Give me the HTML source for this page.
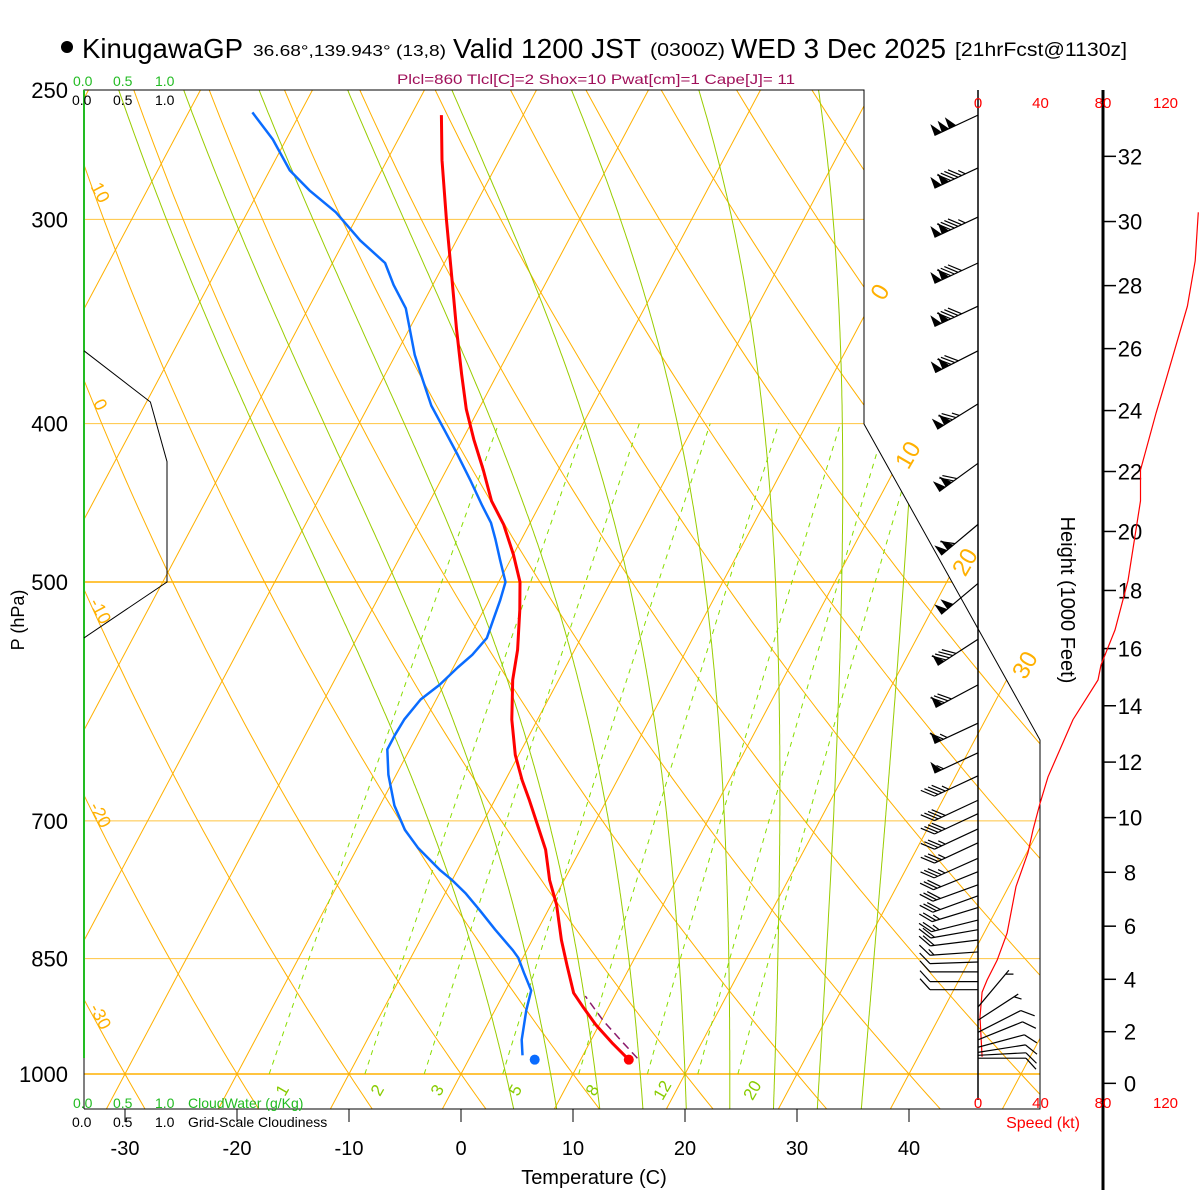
<!DOCTYPE html>
<html><head><meta charset="utf-8"><title>Skew-T KinugawaGP</title>
<style>
html,body{margin:0;padding:0;background:#fff;}
svg{display:block;font-family:"Liberation Sans",sans-serif;}
</style></head>
<body>
<svg id="chart" width="1200" height="1200" viewBox="0 0 1200 1200" xmlns="http://www.w3.org/2000/svg">
<defs><clipPath id="plotclip"><polygon points="84,90 864,90 864,424 1040,740 1040,1109 84,1109"/></clipPath></defs>
<rect width="1200" height="1200" fill="#fff"/>
<g id="header">
<circle cx="67" cy="47" r="6" fill="#000"/>
<text x="82" y="58" font-size="28" textLength="161" lengthAdjust="spacingAndGlyphs">KinugawaGP</text>
<text x="253" y="56" font-size="16" textLength="193" lengthAdjust="spacingAndGlyphs">36.68°,139.943° (13,8)</text>
<text x="453" y="58" font-size="28" textLength="188" lengthAdjust="spacingAndGlyphs">Valid 1200 JST</text>
<text x="650" y="56" font-size="18" textLength="75" lengthAdjust="spacingAndGlyphs">(0300Z)</text>
<text x="731" y="58" font-size="28" textLength="215" lengthAdjust="spacingAndGlyphs">WED 3 Dec 2025</text>
<text x="955" y="56" font-size="19" textLength="172" lengthAdjust="spacingAndGlyphs">[21hrFcst@1130z]</text>
<text x="397" y="84" font-size="14" fill="#a0105a" textLength="398" lengthAdjust="spacingAndGlyphs">Plcl=860 Tlcl[C]=2 Shox=10 Pwat[cm]=1 Cape[J]= 11</text>
</g>
<g id="bg" clip-path="url(#plotclip)"></g>
<g id="fg"></g>
</svg>
<script>
// ---- data ----
const tempP = [980,957,933,911,892,858,828,788,761,729,704,680,661,638,607,574,550,520,500,481,461,446,427,409,392,373,350,326,300,276,259];
const tempC = [14.3,12.0,9.7,7.8,6.2,4.3,2.6,0.5,-1.3,-3.1,-5.0,-6.9,-8.5,-10.3,-12.3,-14.1,-15.1,-16.8,-18.1,-20.0,-22.3,-24.5,-26.7,-29.0,-31.1,-33.2,-35.8,-38.6,-41.9,-45.1,-47.3];
const dewP = [974,953,914,889,867,849,840,816,794,775,761,750,727,709,685,656,633,620,607,590,578,564,554,541,527,513,500,485,471,460,449,433,418,404,390,376,363,340,329,319,309,297,288,280,268,258];
const dewC = [4.6,3.8,2.8,2.3,0.8,-0.4,-1.25,-3.8,-6.1,-8.2,-10.0,-11.6,-14.6,-16.6,-18.7,-20.7,-22.0,-22.0,-21.9,-21.4,-20.4,-19.6,-18.9,-18.4,-18.7,-19.0,-19.4,-20.9,-22.3,-23.5,-25.1,-27.4,-29.7,-32.0,-34.4,-36.4,-38.3,-41.3,-43.5,-45.3,-48.6,-52.1,-55.5,-58.2,-61.2,-64.3];
const sfcP = 980, sfcT = 14.3, sfcTd = 5.9;
const parcelP = [978,955,928,896];
const parcelT = [15.0,12.8,10.2,7.4];
const windP = [259,279,299,319,339,361,389,423,461,501,542,578,610,636,657,680,693,708,722,738,752,766,778,791,805,816,828,842,854,866,878,888,910,927,943,953,963,970,974,978];
const windDir = [245,245,245,245,245,243,238,234,230,230,237,242,245,245,245,245,245,245,245,246,248,250,250,253,256,260,263,266,268,270,270,270,40,57,63,68,75,81,87,90];
const windKt = [150,145,145,140,140,130,125,120,110,100,90,80,65,55,45,40,40,35,35,35,30,30,30,25,25,20,20,15,10,10,10,10,5,5,8,10,10,10,10,10];
const speedP = [976,923,891,876,852,820,768,732,709,683,658,607,574,562,535,499,446,427,394,376,339,318,297];
const speedKt = [2.6,1.3,2.6,5.8,12.2,18.6,24.3,32,35.2,39.7,44.8,60.8,76.8,78.7,87.7,96,104,104,114,120.3,134,139,141];
const cloudP = [361,388,422,500,541];
const cloudFrac = [0,0.8,1,1,0];
const pressLabels = [250,300,400,500,700,850,1000];
const tempTicks = [-30,-20,-10,0,10,20,30,40];
const heightTicks = [0,2,4,6,8,10,12,14,16,18,20,22,24,26,28,30,32];
const speedTicks = [0,40,80,120];
const mixRatios = [1,2,3,5,8,12,16,20];
const mixLabels = ["1","2","3","5","8","12","20"];
const thetaLabels = [10,0,-10,-20,-30];
const isoLabels = [0,10,20,30];
const moistStarts = [4,8,12,16,20,24,28,32,36];

// ---- axis functions ----
const NS = "http://www.w3.org/2000/svg";
function Y(p){ return 1074 - 709.8*Math.log(1000/p); }
function X(T,p){ return 461 + 11.2*T + 0.532*(1074 - Y(p)); }
function SX(kt){ return 978 + 1.5625*kt; }
function CX(f){ return 84 + 83*f; }
function heightToP(kft){ const zm = kft*1000*0.3048; return 1013.25*Math.pow(1-2.25577e-5*zm,5.25588); }
function mk(tag, attrs, parent){ const e=document.createElementNS(NS,tag); for(const k in attrs) e.setAttribute(k,attrs[k]); parent.appendChild(e); return e; }
function poly(pts){ return pts.map(p=>p[0].toFixed(1)+","+p[1].toFixed(1)).join(" "); }
const bg = document.getElementById('bg');
const fg = document.getElementById('fg');
const ORANGE = "#ffb000", GREEN="#99cc00";

// isobars
[300,400,700,850].forEach(p=>{
  const l = mk('line',{x1:84,x2:1100,y1:Y(p),y2:Y(p),stroke:ORANGE,'stroke-width':1,'stroke-opacity':0.75},bg);
  
  
});
[500,1000].forEach(p=>{
  const l = mk('line',{x1:84,x2:1100,y1:Y(p),y2:Y(p),stroke:ORANGE,'stroke-width':1.5},bg);
  
  
});
// isotherms
for(let T=-130; T<=50; T+=10){
  const l = mk('line',{x1:X(T,1060),y1:Y(1060),x2:X(T,240),y2:Y(240),stroke:ORANGE,'stroke-width':1},bg);
  
  
}
// dry adiabats
for(let th=-40; th<=140; th+=10){
  const pts=[];
  for(let p=1060;p>=240;p-=10){ const T=(th+273.15)*Math.pow(p/1000,0.286)-273.15; pts.push([X(T,p),Y(p)]); }
  const l = mk('polyline',{points:poly(pts),fill:'none',stroke:ORANGE,'stroke-width':1},bg);
  
  
}
// moist adiabats
function es(T){ return 6.112*Math.exp(17.67*T/(T+243.5)); }
function dTdp(T,p){ const Tk=T+273.15; const rs=0.622*es(T)/(p-es(T)); return (287*Tk+2.5e6*rs)/(p*(1005+2.5e6*2.5e6*rs*0.622/(287*Tk*Tk))); }
moistStarts.forEach(T0=>{
  const up=[]; let T=T0;
  for(let p=1000;p>=240;p-=2){ up.push([X(T,p),Y(p)]); T -= dTdp(T,p)*2; }
  const down=[]; T=T0;
  for(let p=1000;p<=1060;p+=2){ down.unshift([X(T,p),Y(p)]); T += dTdp(T,p)*2; }
  const l = mk('polyline',{points:poly(down.concat(up)),fill:'none',stroke:GREEN,'stroke-width':1},bg);
  
  
});
// mixing ratio lines
mixRatios.forEach(w=>{
  const pts=[];
  for(let p=1000;p>=400;p-=10){ const e=w*p/(622+w); const a=Math.log(e/6.112); const Td=243.5*a/(17.67-a); pts.push([X(Td,p),Y(p)]); }
  const l = mk('polyline',{points:poly(pts),fill:'none',stroke:"#88dd00",'stroke-width':1,'stroke-dasharray':'5,5'},bg);
  
  
});

// frame
const frame = mk('polyline',{points:"84,1109 84,90 864,90 864,424 1040,740 1040,1109 84,1109",fill:'none',stroke:'#000','stroke-width':1},fg);


const gax = mk('line',{x1:84,y1:90,x2:84,y2:1058,stroke:'#22bb22','stroke-width':2},fg);



// cloud fraction line
{
  const pts = cloudP.map((p,i)=>[CX(cloudFrac[i]),Y(p)]);
  const l = mk('polyline',{points:poly(pts),fill:'none',stroke:'#000','stroke-width':1},fg);
  
  
}
// parcel
{
  const pts = parcelP.map((p,i)=>[X(parcelT[i],p),Y(p)]);
  const l = mk('polyline',{points:poly(pts),fill:'none',stroke:'#8b1a6b','stroke-width':1.5,'stroke-dasharray':'8,5'},fg);
  
  
}
// dewpoint
{
  const pts = dewP.map((p,i)=>[X(dewC[i],p),Y(p)]);
  const l = mk('polyline',{points:poly(pts),fill:'none',stroke:'#0a6cff','stroke-width':2.5,'stroke-linejoin':'round'},fg);
  
  
  const d = mk('circle',{cx:X(sfcTd,sfcP),cy:Y(sfcP),r:5,fill:'#0a6cff'},fg);
  
  
}
// temperature
{
  const pts = tempP.map((p,i)=>[X(tempC[i],p),Y(p)]);
  const l = mk('polyline',{points:poly(pts),fill:'none',stroke:'#ff0000','stroke-width':3,'stroke-linejoin':'round'},fg);
  
  
  const d = mk('circle',{cx:X(sfcT,sfcP),cy:Y(sfcP),r:5,fill:'#ff0000'},fg);
  
  
}

// right panel axes
{
  const a = mk('line',{x1:978,y1:90,x2:978,y2:1100,stroke:'#000','stroke-width':1.5},fg);
  
  
  const h = mk('line',{x1:1103,y1:90,x2:1103,y2:1190,stroke:'#000','stroke-width':3},fg);
  
  
}
heightTicks.forEach(k=>{
  const y=Y(heightToP(k));
  const t = mk('line',{x1:1103,y1:y,x2:1116,y2:y,stroke:'#000','stroke-width':1.5},fg);
  
  
  const tx = mk('text',{x:1130,y:y+8,'font-size':22,'text-anchor':'middle'},fg);
  tx.textContent = String(k);
  
  
});
speedTicks.forEach(s=>{
  [108,1108].forEach(yy=>{
    const tx = mk('text',{x:SX(s),y:yy,'font-size':15,'text-anchor':'middle',fill:'#ff0000'},fg);
    tx.textContent = String(s);
    
    
  });
});
// wind speed profile
{
  const pts = speedP.map((p,i)=>[SX(speedKt[i]),Y(p)]);
  const l = mk('polyline',{points:poly(pts),fill:'none',stroke:'#ff0000','stroke-width':1.2},fg);
  
  
}
// wind barbs
windP.forEach((p,i)=>{
  const d = windDir[i]*Math.PI/180;
  const ux=Math.sin(d), uy=-Math.cos(d);
  const px=-uy, py=ux;
  const ax=978, ay=Y(p), L=48;
  const g = mk('g',{},fg);
  
  
  mk('line',{x1:ax,y1:ay,x2:ax+ux*L,y2:ay+uy*L,stroke:'#000','stroke-width':1.2},g);
  let s = Math.round(windKt[i]/5)*5;
  let pos = L;
  const nP=Math.floor(s/50); s-=nP*50;
  const nF=Math.floor(s/10); s-=nF*10;
  const half = s>=5;
  for(let k=0;k<nP;k++){
    const b1=[ax+ux*pos,ay+uy*pos], b2=[ax+ux*(pos-8),ay+uy*(pos-8)];
    const tip=[b2[0]+px*12+ux*7,b2[1]+py*12+uy*7];
    mk('polygon',{points:poly([b1,b2,tip]),fill:'#000'},g);
    pos-=8;
  }
  if(nP>0) pos-=2;
  if(nP===0 && nF===0 && half) pos-=5;
  for(let k=0;k<nF;k++){
    const b=[ax+ux*pos,ay+uy*pos];
    mk('line',{x1:b[0],y1:b[1],x2:b[0]+px*11+ux*10,y2:b[1]+py*11+uy*10,stroke:'#000','stroke-width':1.2},g);
    pos-=4;
  }
  if(half){
    const b=[ax+ux*pos,ay+uy*pos];
    mk('line',{x1:b[0],y1:b[1],x2:b[0]+px*6+ux*5,y2:b[1]+py*6+uy*5,stroke:'#000','stroke-width':1.2},g);
  }
});

// pressure labels
pressLabels.forEach(p=>{
  const tx = mk('text',{x:68,y:Y(p)+8,'font-size':22,'text-anchor':'end'},fg);
  tx.textContent = String(p);
  
  
});
// temperature ticks
tempTicks.forEach(T=>{
  const x = X(T,1000);
  const t = mk('line',{x1:x,y1:1109,x2:x,y2:1122,stroke:'#000','stroke-width':1},fg);
  
  
  const tx = mk('text',{x:x,y:1155,'font-size':20,'text-anchor':'middle'},fg);
  tx.textContent = String(T);
  
  
});
// theta labels along left edge
thetaLabels.forEach(th=>{
  let best=1000, bd=1e9;
  for(let p=250;p<=1050;p+=1){ const T=(th+273.15)*Math.pow(p/1000,0.286)-273.15; const dd=Math.abs(X(T,p)-95); if(dd<bd){bd=dd;best=p;} }
  const y=Y(best);
  const tx = mk('text',{x:95,y:y,'font-size':18,fill:ORANGE,'text-anchor':'middle',transform:`rotate(62 95 ${y})`},fg);
  tx.textContent = String(th);
  
  
});
// isotherm labels
const isoLabelPos = {0:[880,292],10:[908,455],20:[965,562],30:[1025,665]};
isoLabels.forEach(T=>{
  const c = isoLabelPos[T];
  const tx = mk('text',{x:c[0],y:c[1]+8,'font-size':24,fill:ORANGE,'text-anchor':'middle',transform:`rotate(-60 ${c[0]} ${c[1]})`},fg);
  tx.textContent = String(T);
  
  
});
// mixing ratio labels
const mixLabelX = [282,377,437,515,592,662,752];
mixLabels.forEach((s,i)=>{
  const x=mixLabelX[i], y=1090;
  const tx = mk('text',{x:x,y:y+6,'font-size':17,fill:'#88cc00','text-anchor':'middle',transform:`rotate(-60 ${x} ${y})`},fg);
  tx.textContent = s;
  
  
});
</script>
<script>
(function(){
  const fg=document.getElementById('fg');
  const NS="http://www.w3.org/2000/svg";
  function t(x,y,s,size,fill,name,anchor,extra){
    const e=document.createElementNS(NS,'text');
    e.setAttribute('x',x); e.setAttribute('y',y); e.setAttribute('font-size',size); e.setAttribute('fill',fill);
    if(anchor) e.setAttribute('text-anchor',anchor);
    if(extra) e.setAttribute('transform',extra);
    e.textContent=s;
    
    
    fg.appendChild(e);
  }
  const G="#22bb22";
  t(73,86,"0.0",14,G,"cloudwater-scale-label");
  t(113,86,"0.5",14,G,"cloudwater-scale-label");
  t(155,86,"1.0",14,G,"cloudwater-scale-label");
  t(72,105,"0.0",14,"#000","cloudiness-scale-label");
  t(113,105,"0.5",14,"#000","cloudiness-scale-label");
  t(155,105,"1.0",14,"#000","cloudiness-scale-label");
  t(73,1108,"0.0",14,G,"cloudwater-scale-label");
  t(113,1108,"0.5",14,G,"cloudwater-scale-label");
  t(155,1108,"1.0",14,G,"cloudwater-scale-label");
  t(188,1108,"CloudWater (g/Kg)",14,G,"cloudwater-title");
  t(72,1127,"0.0",14,"#000","cloudiness-scale-label");
  t(113,1127,"0.5",14,"#000","cloudiness-scale-label");
  t(155,1127,"1.0",14,"#000","cloudiness-scale-label");
  t(188,1127,"Grid-Scale Cloudiness",14,"#000","cloudiness-title");
  t(594,1184,"Temperature (C)",20,"#000","x-axis-title","middle");
  t(18,620,"P (hPa)",18,"#000","y-axis-title","middle","rotate(-90 18 620) translate(0 6)");
  t(1068,600,"Height (1000 Feet)",20,"#000","height-axis-title","middle","rotate(90 1068 600) translate(0 7)");
  t(1043,1128,"Speed (kt)",16,"#ff0000","speed-axis-title","middle");
})();
</script>
</body></html>
